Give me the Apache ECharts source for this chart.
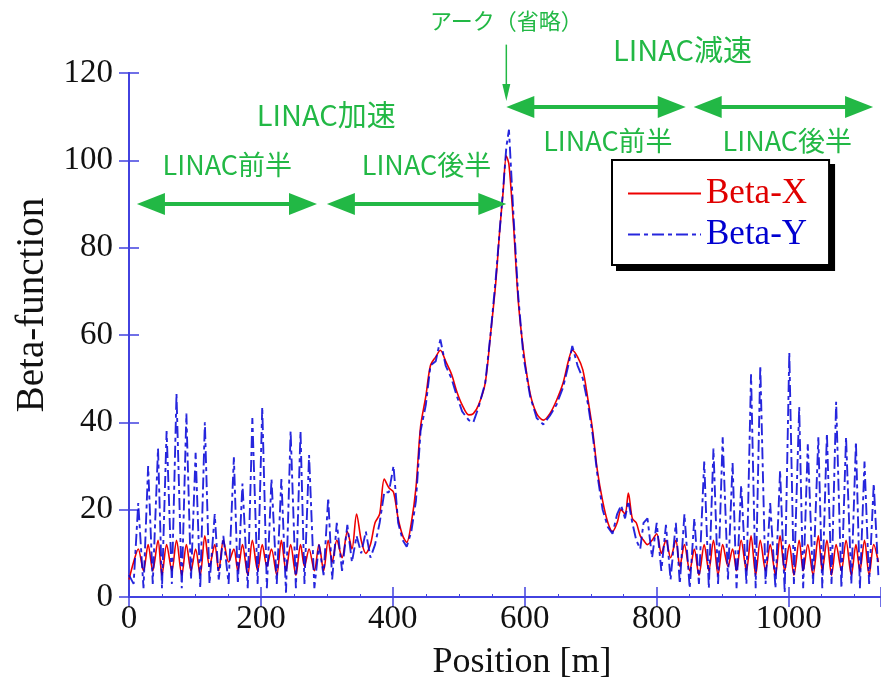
<!DOCTYPE html>
<html>
<head>
<meta charset="utf-8">
<script src="https://cdn.jsdelivr.net/npm/echarts@6/dist/echarts.min.js"></script>
<style>
  html, body { margin: 0; padding: 0; background: #ffffff; }
  #chart { width: 881px; height: 687px; }
</style>
</head>
<body>
<div id="chart"></div>
<script>
// Position along the machine [m]
const positions = [
  0, 7, 14, 22, 29, 36, 44, 50, 57, 65,
  72, 80, 87, 94, 101, 108, 115, 122, 130, 136,
  143, 151, 159, 165, 172, 180, 187, 195, 202, 209,
  216, 224, 231, 238, 245, 253, 260, 266, 273, 281,
  288, 295, 302, 308, 315, 323, 331, 338, 345, 352,
  359, 366, 373, 380, 387, 394, 401, 408, 415, 421,
  428, 435, 442, 450, 457, 465, 472, 480, 489, 497,
  505, 515, 522, 530, 540, 548, 556, 562, 567, 572,
  576, 583, 590, 598, 608, 618, 628, 638, 648, 658,
  666, 672, 680, 688, 696, 703, 710, 718, 726, 733,
  740, 746, 752, 757, 763, 769, 775, 780, 786, 793,
  800, 807, 814, 821, 829, 835, 842, 850, 857, 864,
  872, 879, 886, 893, 900, 908, 915, 921, 928, 936,
  943, 950, 957, 965, 972, 980, 987, 994, 1001, 1008,
  1016, 1022, 1029, 1037, 1045, 1051, 1058, 1065, 1072, 1080,
  1087, 1095, 1102, 1108, 1115, 1122, 1129, 1136
];

// Horizontal beta function [m]
const betaX = [
  4, 8, 11, 6, 12, 6, 13, 5, 12, 6,
  13, 5, 12, 6, 11, 5, 14, 7, 12, 6,
  13, 8, 11, 6, 12, 5, 13, 6, 12, 7,
  11, 5, 13, 6, 12, 5, 12, 7, 11, 6,
  12, 6, 13, 8, 13, 9, 15, 11, 19, 13,
  10, 12, 17, 19, 27, 25, 24, 18, 14, 12.5,
  17, 25, 39, 46, 53, 55, 56.5, 54, 51, 47,
  44, 41.7, 42, 44, 49, 60, 72, 84, 92.5, 101,
  99, 85, 68, 56.5, 46.7, 42, 40.5, 42, 45, 49,
  54, 56.5, 55, 52, 45, 38, 29, 22, 17, 15,
  17, 20, 19, 23.8, 18, 17, 14, 13, 12, 13,
  14.5, 10, 13, 9, 13, 7, 12, 6, 11, 5,
  12, 6, 13, 5, 12, 7, 11, 6, 13, 6,
  14, 5, 13, 6, 12, 5, 14, 6, 12, 5,
  13, 6, 12, 5, 14, 6, 13, 5, 12, 6,
  13, 5, 12, 6, 13, 5, 12, 8
];

// Vertical beta function [m]
const betaY = [
  5, 3, 21.5, 2, 30, 3, 34, 2, 38, 3,
  46.5, 2, 42, 4, 33, 2, 40, 3, 19, 4,
  14, 3, 32, 3, 26, 2, 41, 3, 43.5, 2,
  27, 3, 27, 1, 38, 2, 38, 3, 32.5, 2,
  12, 5, 22.7, 4, 17, 6, 16.5, 8, 14, 10,
  15, 9, 12, 17, 24, 24, 30, 17, 13, 11.5,
  15, 22, 38, 44, 53, 54, 59, 53, 50, 46,
  42.5, 40.5, 40, 43.5, 49, 60, 73, 84, 93, 103,
  107, 87, 69, 55, 46, 41, 39.5, 41.5, 44, 48,
  53, 57.5, 53, 50, 44, 37, 28, 20, 16, 14.5,
  19, 21, 18, 22, 17, 13, 11, 17, 18, 9,
  17, 6, 16.5, 4, 17, 3, 19, 2, 18, 3,
  31, 2, 34, 3, 36.6, 4, 30.7, 2, 25.6, 3,
  51, 2, 53, 3, 21.5, 2, 29, 1, 56, 3,
  43.5, 2, 35, 3, 36.6, 2, 37.5, 3, 44.7, 2,
  36.6, 3, 35.5, 2, 31, 3, 26, 5
];

// Section spans: [from, to, level]
const sectionSpans = [
  [12, 285, 90],
  [300, 572, 90],
  [572, 844, 112.2],
  [856, 1128, 112.2]
];

// Section captions: [text, position, level, font size]
const sectionLabels = [
  ['LINAC前半', 149, 98.9, 27],
  ['LINAC後半', 451, 98.9, 27],
  ['LINAC加速', 299, 110.4, 29],
  ['LINAC前半', 726, 104.6, 27],
  ['LINAC後半', 998, 104.6, 27],
  ['LINAC減速', 839, 125.3, 29],
  ['アーク（省略）', 572, 132, 22]
];

// Arc marker: position, top level, tip level
const arcMarker = [572, 126.5, 113.6];

const AXIS_BLUE = '#4242e0';
const GREEN = '#22b845';
const SERIF = '"Liberation Serif", "Times New Roman", serif';
const SANS = '"Noto Sans CJK JP", "Noto Sans", sans-serif';

const chart = echarts.init(document.getElementById('chart'), null, { renderer: 'canvas' });

function zip(xs, ys) {
  return xs.map((x, i) => [x, ys[i]]);
}

const axisLineStyle = { lineStyle: { color: AXIS_BLUE, width: 2 } };
const tickStyle = { show: true, inside: true, length: 10, lineStyle: { color: AXIS_BLUE, width: 1.5 } };

chart.setOption({
  animation: false,
  backgroundColor: '#ffffff',
  grid: { left: 129, top: 73, right: 0, bottom: 90, containLabel: false },
  xAxis: [
    {
      type: 'value', position: 'bottom', min: 0, max: 1140, interval: 200,
      axisLine: axisLineStyle,
      axisTick: tickStyle,
      minorTick: { show: true, splitNumber: 4, length: 3, lineStyle: { color: AXIS_BLUE, width: 1 } },
      axisLabel: {
        showMaxLabel: false, margin: 6, color: '#111', fontFamily: SERIF, fontSize: 33,
        formatter: (v) => String(v)
      },
      splitLine: { show: false },
      name: 'Position [m]', nameLocation: 'middle', nameGap: 48,
      nameTextStyle: { color: '#111', fontFamily: SERIF, fontSize: 36, padding: [0, 0, 0, 34] }
    },
    {
      type: 'value', position: 'top', min: 0, max: 1140, interval: 200,
      axisLine: axisLineStyle,
      axisTick: tickStyle,
      axisLabel: { show: false },
      splitLine: { show: false }
    }
  ],
  yAxis: [
    {
      type: 'value', position: 'left', min: 0, max: 120, interval: 20,
      axisLine: { show: true, lineStyle: { color: AXIS_BLUE, width: 2 } },
      axisTick: tickStyle,
      axisLabel: { margin: 16, color: '#111', fontFamily: SERIF, fontSize: 33 },
      splitLine: { show: false },
      name: 'Beta-function', nameLocation: 'middle', nameRotate: 90, nameGap: 76,
      nameTextStyle: { color: '#111', fontFamily: SERIF, fontSize: 39, padding: [0, 0, 0, 60] }
    },
    {
      type: 'value', position: 'right', min: 0, max: 120, interval: 20,
      axisLine: { show: true, lineStyle: { color: AXIS_BLUE, width: 2 } },
      axisTick: tickStyle,
      axisLabel: { show: false },
      splitLine: { show: false }
    }
  ],
  legend: {
    left: 612, top: 160, orient: 'vertical',
    itemWidth: 73, itemHeight: 14, itemGap: 6,
    padding: [16, 22, 13, 15],
    backgroundColor: '#ffffff', borderColor: '#000000', borderWidth: 2,
    itemStyle: { opacity: 0 },
    textStyle: { fontFamily: SERIF, fontSize: 35, lineHeight: 35 },
    z: 20,
    data: [
      { name: 'Beta-X', textStyle: { color: '#e00000' } },
      { name: 'Beta-Y', textStyle: { color: '#0000d0' } }
    ]
  },
  series: [
    {
      name: 'Beta-X', type: 'line', xAxisIndex: 0, yAxisIndex: 0,
      data: zip(positions, betaX),
      symbol: 'none', smooth: 0.3,
      lineStyle: { color: '#ee0000', width: 1.6 },
      itemStyle: { color: '#ee0000' },
      z: 2
    },
    {
      name: 'Beta-Y', type: 'line', xAxisIndex: 0, yAxisIndex: 0,
      data: zip(positions, betaY),
      symbol: 'none', smooth: false,
      lineStyle: { color: 'rgba(0,0,215,0.85)', width: 1.9, type: [12, 4, 4, 4] },
      itemStyle: { color: '#0000d0' },
      z: 3
    }
  ]
});

// Annotations placed in data space
function px(x, y) {
  return chart.convertToPixel({ gridIndex: 0 }, [x, y]);
}

const graphics = [];
const HEAD_LEN = 28, HEAD_HALF = 11;

// Drop shadow behind the legend box
(function () {
  const lg = chart.getModel().getComponent('legend');
  const view = chart.getViewOfComponentModel(lg);
  const r = view.group.getBoundingRect();
  const x = view.group.x + r.x, y = view.group.y + r.y;
  graphics.push({
    type: 'rect', silent: true, z: 15,
    shape: { x: x + 5, y: y + 5, width: r.width, height: r.height },
    style: { fill: '#000000' }
  });
})();

sectionSpans.forEach(([a, b, lvl]) => {
  const p0 = px(a, lvl), p1 = px(b, lvl);
  const y = p0[1];
  graphics.push({
    type: 'line', silent: true, z: 10,
    shape: { x1: p0[0] + HEAD_LEN - 2, y1: y, x2: p1[0] - HEAD_LEN + 2, y2: y },
    style: { stroke: GREEN, lineWidth: 4 }
  });
  graphics.push({
    type: 'polygon', silent: true, z: 10,
    shape: { points: [[p0[0], y], [p0[0] + HEAD_LEN, y - HEAD_HALF], [p0[0] + HEAD_LEN, y + HEAD_HALF]] },
    style: { fill: GREEN }
  });
  graphics.push({
    type: 'polygon', silent: true, z: 10,
    shape: { points: [[p1[0], y], [p1[0] - HEAD_LEN, y - HEAD_HALF], [p1[0] - HEAD_LEN, y + HEAD_HALF]] },
    style: { fill: GREEN }
  });
});

sectionLabels.forEach(([text, x, lvl, size]) => {
  const p = px(x, lvl);
  graphics.push({
    type: 'text', silent: true, z: 10,
    style: {
      text: text, x: p[0], y: p[1],
      fill: GREEN, font: size + 'px ' + SANS,
      align: 'center', verticalAlign: 'middle'
    }
  });
});

(function () {
  const top = px(arcMarker[0], arcMarker[1]);
  const tip = px(arcMarker[0], arcMarker[2]);
  graphics.push({
    type: 'line', silent: true, z: 10,
    shape: { x1: top[0], y1: top[1], x2: tip[0], y2: tip[1] - 10 },
    style: { stroke: GREEN, lineWidth: 1.5 }
  });
  graphics.push({
    type: 'polygon', silent: true, z: 10,
    shape: { points: [[tip[0], tip[1]], [tip[0] - 4, tip[1] - 17], [tip[0] + 4, tip[1] - 17]] },
    style: { fill: GREEN }
  });
})();

chart.setOption({ graphic: graphics });
</script>
</body>
</html>
